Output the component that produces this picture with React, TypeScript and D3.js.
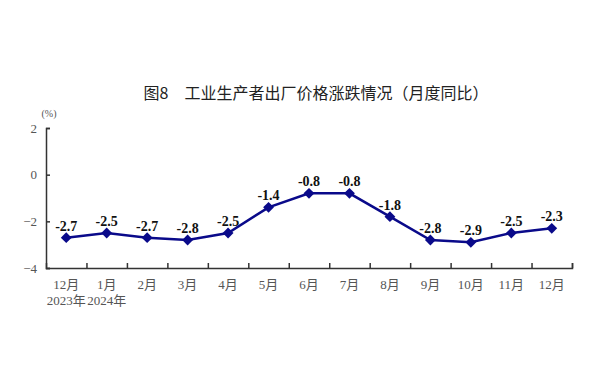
import React, { useEffect, useRef } from "react";
import * as d3 from "d3";

const months = ["12月", "1月", "2月", "3月", "4月", "5月", "6月", "7月", "8月", "9月", "10月", "11月", "12月"];
const yearLabels = ["2023年", "2024年"];
const ppiYoY = [-2.7, -2.5, -2.7, -2.8, -2.5, -1.4, -0.8, -0.8, -1.8, -2.8, -2.9, -2.5, -2.3];
const yTicks = [2, 0, -2, -4];
const title = "图8　工业生产者出厂价格涨跌情况（月度同比）";

const App = () => {
  const svgRef = useRef<SVGSVGElement>(null);

  useEffect(() => {
    const width = 609;
    const height = 392;
    const left = 46;
    const right = 572;
    const top = 128;
    const bottom = 268;
    const serif = "'Liberation Serif', 'Noto Sans CJK SC', serif";

    const svg = d3.select(svgRef.current);
    svg.selectAll("*").remove();
    svg.attr("width", width).attr("height", height);

    svg.append("rect").attr("width", width).attr("height", height).attr("fill", "#fff");

    // 标题
    svg.append("text")
      .attr("x", 316)
      .attr("y", 99)
      .attr("text-anchor", "middle")
      .attr("font-family", "'Noto Sans CJK SC', sans-serif")
      .attr("font-size", 16)
      .attr("fill", "#222")
      .text(title);

    const x = d3.scaleBand<number>()
      .domain(d3.range(months.length))
      .range([left, right])
      .padding(0);

    const y = d3.scaleLinear().domain([-4, 2]).range([bottom, top]);

    // y 轴
    const yAxis = d3.axisLeft(y).tickValues(yTicks).tickSize(-4).tickPadding(9).tickFormat(d3.format("d"));
    const gy = svg.append("g").attr("transform", `translate(${left},0)`).call(yAxis);
    gy.select(".domain").attr("stroke", "#333").attr("stroke-width", 1.5);
    gy.selectAll(".tick line").attr("stroke", "#333").attr("stroke-width", 1.5);
    gy.selectAll(".tick text")
      .attr("font-family", serif)
      .attr("font-size", 13)
      .attr("fill", "#555")
      .text((d: any) => (d < 0 ? "−" + Math.abs(d) : String(d)));

    svg.append("text")
      .attr("x", 49)
      .attr("y", 117)
      .attr("text-anchor", "middle")
      .attr("font-family", serif)
      .attr("font-size", 10)
      .attr("fill", "#555")
      .text("(%)");

    // x 轴
    const xAxis = d3.axisBottom(d3.scaleLinear().domain([0, months.length]).range([left, right]))
      .tickValues(d3.range(1, months.length + 1))
      .tickSize(-5)
      .tickFormat(() => "");
    const gx = svg.append("g").attr("transform", `translate(0,${bottom})`).call(xAxis);
    gx.select(".domain").attr("stroke", "#333").attr("stroke-width", 1.5);
    gx.selectAll(".tick line").attr("stroke", "#333").attr("stroke-width", 1.5);

    svg.append("g")
      .selectAll("text")
      .data(months)
      .enter()
      .append("text")
      .attr("x", (_, i) => x(i)! + x.bandwidth() / 2)
      .attr("y", 289)
      .attr("text-anchor", "middle")
      .attr("font-family", serif)
      .attr("font-size", 13)
      .attr("fill", "#555")
      .text((d) => d);

    svg.append("g")
      .selectAll("text")
      .data(yearLabels)
      .enter()
      .append("text")
      .attr("x", (_, i) => x(i)! + x.bandwidth() / 2)
      .attr("y", 305)
      .attr("text-anchor", "middle")
      .attr("font-family", serif)
      .attr("font-size", 13)
      .attr("fill", "#555")
      .text((d) => d);

    // 折线
    const line = d3.line<number>()
      .x((_, i) => x(i)! + x.bandwidth() / 2)
      .y((d) => y(d));

    svg.append("path")
      .datum(ppiYoY)
      .attr("d", line)
      .attr("fill", "none")
      .attr("stroke", "#0a0a8a")
      .attr("stroke-width", 2.5);

    svg.append("g")
      .selectAll("path")
      .data(ppiYoY)
      .enter()
      .append("path")
      .attr("d", d3.symbol().type(d3.symbolDiamond2).size(75))
      .attr("transform", (d, i) => `translate(${x(i)! + x.bandwidth() / 2},${y(d)})`)
      .attr("fill", "#0a0a8a");

    svg.append("g")
      .selectAll("text")
      .data(ppiYoY)
      .enter()
      .append("text")
      .attr("x", (_, i) => x(i)! + x.bandwidth() / 2)
      .attr("y", (d) => y(d) - 7)
      .attr("text-anchor", "middle")
      .attr("font-family", serif)
      .attr("font-size", 14)
      .attr("font-weight", "bold")
      .attr("fill", "#111")
      .text((d) => d.toFixed(1));
  }, []);

  return <svg ref={svgRef} style={{ position: "absolute", left: 0, top: 0 }}></svg>;
};

export default App;
